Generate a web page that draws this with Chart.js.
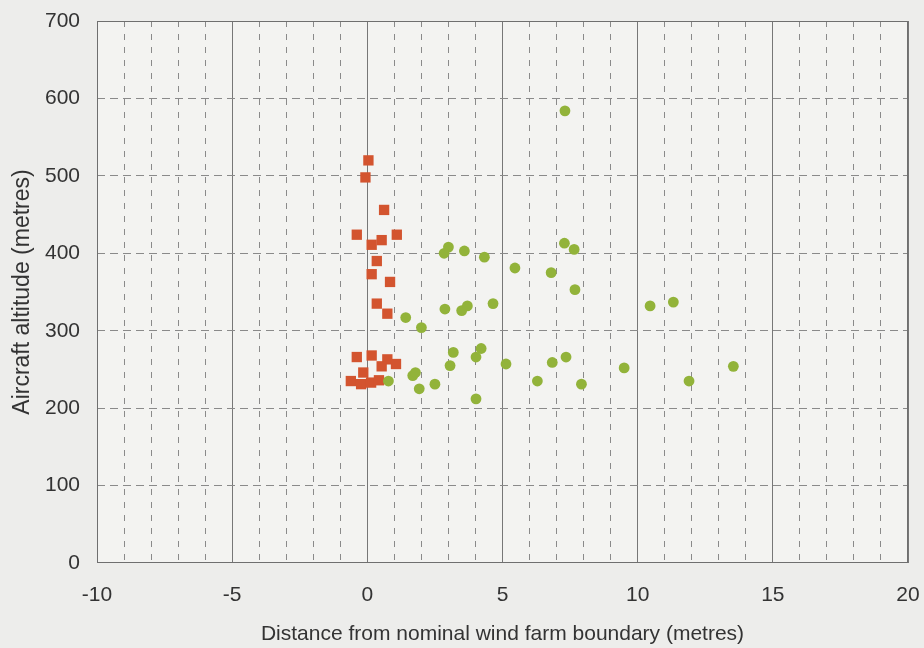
<!DOCTYPE html>
<html>
<head>
<meta charset="utf-8">
<script src="https://cdn.jsdelivr.net/npm/chart.js@4/dist/chart.umd.min.js"></script>
<style>
html,body{margin:0;padding:0;background:#ededeb;}
canvas{display:block;}
</style>
</head>
<body>
<canvas id="c" width="924" height="648"></canvas>
<script>
// Red squares: distance (m) and altitude (m)
const redX = [0.04, -0.07, 0.62, -0.39, 0.16, 0.53, 1.09, 0.35, 0.16, 0.84, 0.35, 0.74, -0.39, 0.16, 0.74, 1.06, 0.53, -0.15, -0.61, -0.23, 0.14, 0.43];
const redY = [520, 498, 456, 424, 411, 417, 424, 390, 373, 363, 335, 322, 266, 268, 263, 257, 254, 246, 235, 231, 233, 236];
// Green circles
const greenX = [0.78, 1.42, 2.0, 1.68, 1.78, 1.92, 2.5, 2.84, 3.0, 3.59, 4.33, 2.87, 3.49, 3.7, 4.65, 3.18, 4.21, 4.02, 3.06, 4.02, 5.13, 5.46, 6.8, 6.84, 6.29, 7.29, 7.65, 7.68, 7.35, 7.92, 7.31, 9.5, 10.46, 11.32, 11.9, 13.54];
const greenY = [235, 317, 304, 242, 246, 225, 231, 400, 408, 403, 395, 328, 326, 332, 335, 272, 277, 266, 255, 212, 257, 381, 375, 259, 235, 413, 405, 353, 266, 231, 584, 252, 332, 337, 235, 254];
// Axes
const xMin = -10, xMax = 20, xMajorStep = 5, xMinorStep = 1;
const yMin = 0, yMax = 700, yStep = 100;
const xTitle = 'Distance from nominal wind farm boundary (metres)';
const yTitle = 'Aircraft altitude (metres)';

const toPts = (xs, ys) => xs.map((x, i) => ({x: x, y: ys[i]}));
const fam = '"Liberation Sans", Arial, sans-serif';
const font = {family: fam, size: 21};
const textColor = '#333333';
const gridColor = '#8a8a8a';

const framePlugin = {
  id: 'frame',
  beforeDraw(chart) {
    const a = chart.chartArea, ctx = chart.ctx;
    ctx.save();
    ctx.fillStyle = '#f3f3f1';
    ctx.fillRect(a.left, a.top, a.right - a.left, a.bottom - a.top);
    ctx.restore();
  },
  beforeDatasetsDraw(chart) {
    const a = chart.chartArea, ctx = chart.ctx;
    ctx.save();
    ctx.strokeStyle = '#6f6f6f';
    ctx.lineWidth = 1;
    ctx.strokeRect(a.left + 0.5, a.top + 0.5, a.right - a.left - 1, a.bottom - a.top - 1);
    ctx.restore();
  }
};

new Chart(document.getElementById('c'), {
  type: 'scatter',
  data: {
    datasets: [
      {data: toPts(greenX, greenY), pointStyle: 'circle', pointRadius: 5.4, pointHoverRadius: 5.4,
       backgroundColor: '#92b33a', borderColor: '#92b33a', borderWidth: 0},
      {data: toPts(redX, redY), pointStyle: 'rect', pointRadius: 7.3, pointHoverRadius: 7.3,
       backgroundColor: '#d3542f', borderColor: '#d3542f', borderWidth: 0}
    ]
  },
  options: {
    responsive: false,
    animation: false,
    devicePixelRatio: 1,
    layout: {padding: {top: 21, right: 16, left: 0, bottom: 0}},
    plugins: {legend: {display: false}, tooltip: {enabled: false}},
    scales: {
      x: {
        type: 'linear', position: 'bottom', min: xMin, max: xMax,
        afterFit: s => { s.height = 85; s.paddingLeft = 0; s.paddingRight = 0; },
        ticks: {stepSize: xMajorStep, color: textColor, font: font, padding: 20, maxRotation: 0},
        grid: {color: '#777777', lineWidth: 1, drawTicks: false},
        border: {display: false},
        title: {display: true, text: xTitle, color: textColor, font: {family: fam, size: 21}, padding: {top: 0, bottom: 1.5}}
      },
      xMinor: {
        type: 'linear', position: 'top', min: xMin, max: xMax,
        afterFit: s => { s.height = 0; s.paddingLeft = 0; s.paddingRight = 0; },
        ticks: {stepSize: xMinorStep, display: false},
        grid: {
          color: ctx => (ctx.tick && Math.abs(ctx.tick.value % xMajorStep) < 1e-9) ? 'rgba(0,0,0,0)' : gridColor,
          lineWidth: 1, drawTicks: false
        },
        border: {display: false, dash: [6, 7]}
      },
      y: {
        type: 'linear', min: yMin, max: yMax,
        afterFit: s => { s.width = 97; s.paddingTop = 0; s.paddingBottom = 0; },
        ticks: {stepSize: yStep, color: textColor, font: font, padding: 17},
        grid: {
          color: ctx => (ctx.tick && (ctx.tick.value === yMin || ctx.tick.value === yMax)) ? 'rgba(0,0,0,0)' : gridColor,
          lineWidth: 1, drawTicks: false
        },
        border: {display: false, dash: [8, 5]},
        title: {display: true, text: yTitle, color: textColor, font: {family: fam, size: 23}, padding: {top: 9, bottom: 0}}
      }
    }
  },
  plugins: [framePlugin]
});
</script>
</body>
</html>
